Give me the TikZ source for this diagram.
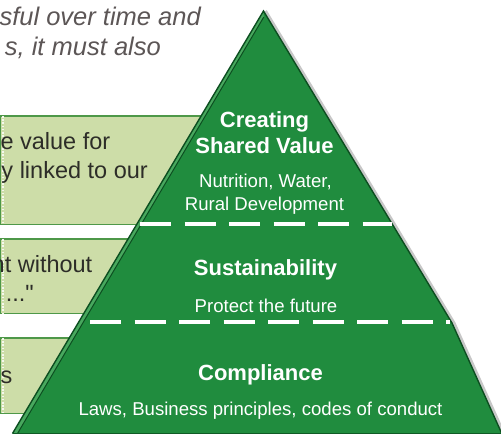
\documentclass[tikz,border=0pt]{standalone}
\usepackage{fontspec}
\setmainfont{Liberation Sans}
\newfontfamily\plainsans{Liberation Sans}[Ligatures=ResetAll]
\definecolor{pyrgreen}{RGB}{32,140,62}
\definecolor{pyrdark}{RGB}{12,78,32}
\definecolor{pyrlight}{RGB}{72,168,94}
\definecolor{boxfill}{RGB}{205,221,168}
\definecolor{boxline}{RGB}{78,152,72}
\definecolor{quotegray}{RGB}{92,86,86}
\definecolor{boxtext}{RGB}{45,45,40}
\begin{document}
\begin{tikzpicture}[x=1pt,y=-1pt,
  quote/.style={anchor=base east,inner sep=0pt,text=quotegray,
    font=\fontsize{25.5}{29}\selectfont\itshape},
  panel/.style={fill=boxfill,inner sep=0pt,anchor=north west,
    minimum width=330pt},
  panelrule/.style={draw=boxline,line width=1.2pt},
  paneldots/.style={draw=white!80!boxfill,line width=1.8pt,
    dash pattern=on 1.6pt off 1.6pt},
  paneltext/.style={anchor=base east,inner sep=0pt,text=boxtext,
    font=\fontsize{23.5}{28}\selectfont},
  title/.style={anchor=base,inner sep=0pt,text=white,
    font=\fontsize{22}{26}\selectfont\bfseries},
  sub/.style={anchor=base,inner sep=0pt,text=white,
    font=\fontsize{18.6}{22}\selectfont},
  divider/.style={draw=white,line width=4pt,dash pattern=on 31pt off 13.5pt},
]
\clip (0,0) rectangle (501,434);
\fill[white] (0,0) rectangle (501,434);

% statement at the top
\node[quote] (q1) at (201,25) {sful over time and};
\node[quote] (q2) at (161,55) {s, it must also};

% green panels on the left
\node[panel,minimum height=108pt] (p1) at (0,116) {};
\node[panel,minimum height=74pt] (p2) at (0,239) {};
\node[panel,minimum height=75pt] (p3) at (0,338) {};
\foreach \p in {p1,p2,p3}{
  \draw[panelrule] (\p.north west) -- (\p.north east);
  \draw[panelrule] (\p.south west) -- (\p.south east);
  \draw[draw=boxline,line width=1pt] ([xshift=0.5pt]\p.north west) -- ([xshift=0.5pt]\p.south west);
  \draw[paneldots] ([xshift=2.6pt]\p.north west) -- ([xshift=2.6pt]\p.south west);
}

\node[paneltext] (t1a) at (110.5,149) {e value for};
\node[paneltext] (t1b) at (148,178) {y linked to our};
\node[paneltext] (t2a) at (92.5,272) {nt without};
\node[paneltext] (t2b) at (34,301) {\plainsans ..."};
\node[paneltext] (t3a) at (12.5,383) {s};

% pyramid
\coordinate (apex) at (263.5,11);
\coordinate (rmid) at (452,323);
\coordinate (br) at (502,434);
\coordinate (bl) at (12.5,433.5);
\coordinate (bli) at (17.5,433.5);
\coordinate (apexi) at (263.8,17);

% soft shadow along the right side
\draw[black!22,line width=3pt] ([xshift=2pt]apex) -- ([xshift=2pt]rmid) -- ([xshift=2pt]br);
\fill[pyrgreen] (apex) -- (rmid) -- (br) -- (501,436) -- (bl) -- cycle;
% bevel stripe along the left side
\fill[pyrlight] (apex) -- (apexi) -- (bli) -- (bl) -- cycle;
\draw[pyrdark,line width=1pt] (apexi) -- (bli);
\draw[pyrdark,line width=1.4pt,line join=miter] (bl) -- (apex) -- (rmid) -- (br);
\draw[pyrdark!80!pyrgreen,line width=1.5pt] (bl) -- (501,433.5);

% level dividers
\draw[divider] (140,224) -- (392,224);
\draw[divider] (90,322) -- (450,322);

% level labels
\node[title] (l1a) at (264.5,127) {Creating};
\node[title] (l1b) at (264.5,153) {Shared Value};
\node[sub] (l1c) at (265.5,187) {Nutrition, Water,};
\node[sub] (l1d) at (264.5,210.5) {Rural Development};

\node[title] (l2a) at (265.5,275) {Sustainability};
\node[sub] (l2b) at (266,312) {Protect the future};

\node[title] (l3a) at (260.5,380) {Compliance};
\node[sub] (l3b) at (260.5,415) {Laws, Business principles, codes of conduct};
\end{tikzpicture}
\end{document}
